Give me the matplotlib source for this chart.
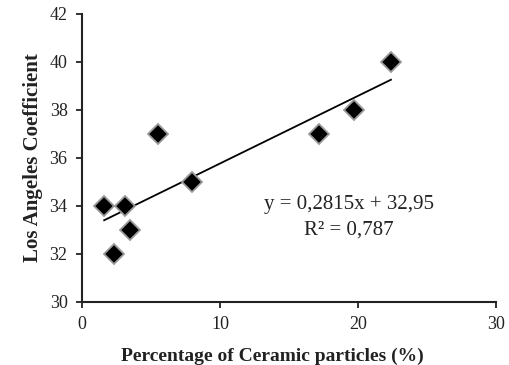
import matplotlib
matplotlib.use("Agg")
import matplotlib.pyplot as plt
import numpy as np

x_vals = [1.6, 2.3, 3.1, 3.5, 5.5, 8.0, 17.2, 19.7, 22.4]
y_vals = [34, 32, 34, 33, 37, 35, 37, 38, 40]
slope = 0.2815
intercept = 32.95
eq_line1 = "y = 0,2815x + 32,95"
eq_line2 = "R² = 0,787"
x_ticks = [0, 10, 20, 30]
y_ticks = [30, 32, 34, 36, 38, 40, 42]

plt.rcParams['font.family'] = ['Liberation Serif', 'DejaVu Serif']

fig = plt.figure(figsize=(5.1, 3.65), dpi=100)
ax = fig.add_axes([0.161, 0.173, 0.811, 0.789])

xs = np.array([min(x_vals), max(x_vals)])
ax.plot(xs, slope * xs + intercept, color='black', lw=1.3, zorder=2)
ax.plot(x_vals, y_vals, linestyle='none', marker='D', ms=10,
        markerfacecolor='black', markeredgecolor='#9a9a9a', markeredgewidth=1.3, zorder=3)

ax.set_xlim(0, 30)
ax.set_ylim(30, 42)
ax.set_xticks(x_ticks)
ax.set_yticks(y_ticks)
ax.spines['top'].set_visible(False)
ax.spines['right'].set_visible(False)
for s in ['left', 'bottom']:
    ax.spines[s].set_linewidth(1.5)
    ax.spines[s].set_color('#222222')
ax.tick_params(direction='out', length=4.5, width=1.3, labelsize=13, colors='#222222', pad=6)

ax.set_xlabel('Percentage of Ceramic particles (%)', fontsize=14, fontweight='bold',
              color='#222222', labelpad=10, x=0.46)
ax.set_ylabel('Los Angeles Coefficient', fontsize=15, fontweight='bold', color='#222222', labelpad=5)

ax.text(19.35, 34.05, eq_line1, ha='center', va='center', fontsize=15, color='#222222')
ax.text(19.35, 33.0, eq_line2, ha='center', va='center', fontsize=15, color='#222222')

fig.savefig('out.png', dpi=100)
